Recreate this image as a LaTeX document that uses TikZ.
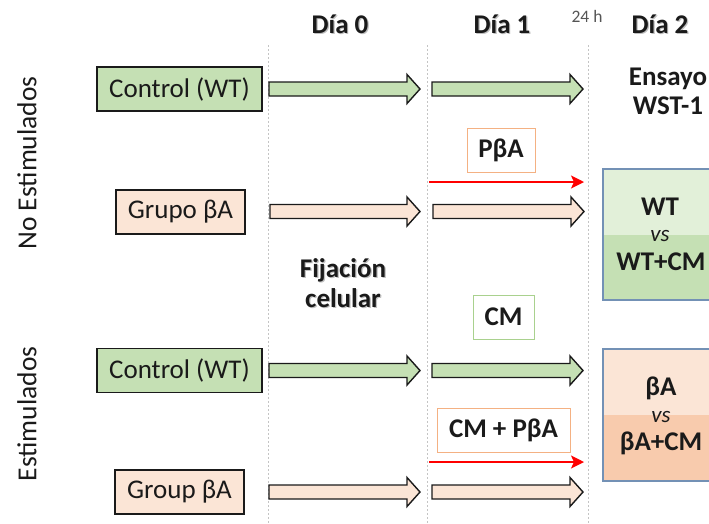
\documentclass[tikz,border=0pt]{standalone}
\usepackage{fontspec}
\setmainfont{Carlito}
\usetikzlibrary{arrows.meta}

\definecolor{wtfill}{HTML}{C5E0B4}
\definecolor{wtlight}{HTML}{E2F0D9}
\definecolor{bafill}{HTML}{FBE5D6}
\definecolor{badark}{HTML}{F8CBAD}
\definecolor{orangeline}{HTML}{F4B183}
\definecolor{greenline}{HTML}{A9D18E}
\definecolor{resline}{HTML}{7391B5}
\definecolor{guide}{HTML}{C4C4C4}
\definecolor{ink}{HTML}{1A1A1A}
\definecolor{hourgray}{HTML}{555555}

\newcommand\bigtxt{\fontsize{27}{31}\selectfont}

% block arrow: start x, end x, centre y, fill colour
\newcommand\blockarrow[4]{%
  \draw[blockline, fill=#4]
    (#1,#3-7) -- (#2-13,#3-7) -- (#2-13,#3-14.5) -- (#2,#3)
    -- (#2-13,#3+14.5) -- (#2-13,#3+7) -- (#1,#3+7) -- cycle;}

\begin{document}
\begin{tikzpicture}[x=1pt,y=-1pt,
  blockline/.style={draw=ink, line width=1.4pt, line join=miter},
  groupbox/.style={draw=ink, line width=1.6pt, minimum height=44pt,
    inner sep=0pt, font=\bigtxt, text=ink},
  treatbox/.style={draw=#1, line width=1pt, fill=white, minimum height=44pt,
    inner sep=0pt, font=\bigtxt\bfseries, text=ink},
  header/.style={font=\bigtxt\bfseries, text=ink, inner sep=0pt},
  hshadow/.style={font=\bigtxt\bfseries, text=black, opacity=0.25, inner sep=0pt},
  sidelabel/.style={font=\fontsize{27.5}{31}\selectfont, rotate=90, text=ink, inner sep=0pt},
  guideline/.style={draw=guide, line width=0.8pt, dash pattern=on 2pt off 2pt},
  redarrow/.style={draw=red, line width=1.6pt, -{Stealth[length=13pt,width=13pt,inset=3pt]}},
  resbox/.style={draw=resline, line width=1.6pt, inner sep=0pt},
  restext/.style={font=\bigtxt\bfseries, text=ink, inner sep=0pt},
  vstext/.style={font=\fontsize{23}{26}\selectfont\itshape, text=ink, inner sep=0pt}]

\useasboundingbox (0,0) rectangle (709,523);
\clip (0,0) rectangle (709,523);

% day separators
\coordinate (g0t) at (268,45);  \coordinate (g0b) at (268,523);
\coordinate (g1t) at (427,45);  \coordinate (g1b) at (427,523);
\coordinate (g2t) at (588,45);  \coordinate (g2b) at (588,523);
\draw[guideline] (g0t) -- (g0b);
\draw[guideline] (g1t) -- (g1b);
\draw[guideline] (g2t) -- (g2b);

% headers
\node[hshadow] at (341.2,25.2) {Día 0};
\node[header] (d0) at (340,24) {Día 0};
\node[hshadow] at (503.2,25.2) {Día 1};
\node[header] (d1) at (502,24) {Día 1};
\node[hshadow] at (661.2,25.2) {Día 2};
\node[header] (d2) at (660,24) {Día 2};
\node[font=\fontsize{17.5}{20}\selectfont, text=hourgray, inner sep=0pt] (h24) at (587,16) {24 h};

% side labels
\node[sidelabel] (nostim) at (27,163) {No Estimulados};
\node[sidelabel] (stim) at (27,414) {Estimulados};

% groups
\node[groupbox, fill=wtfill, minimum width=165pt] (c1) at (179.5,89) {Control (WT)};
\node[groupbox, fill=bafill, minimum width=129pt] (b1) at (180.5,212) {Grupo βA};
\node[groupbox, fill=wtfill, minimum width=165pt] (c2) at (179.5,370.5) {Control (WT)};
\node[groupbox, fill=bafill, minimum width=129pt] (b2) at (179.5,492) {Group βA};

% time-line arrows
\blockarrow{269}{420}{89}{wtfill}
\blockarrow{432}{583}{89}{wtfill}
\blockarrow{270}{420}{211.5}{bafill}
\blockarrow{433}{584}{211.5}{bafill}
\blockarrow{269}{420}{370.5}{wtfill}
\blockarrow{432}{583}{370.5}{wtfill}
\blockarrow{269}{420}{492}{bafill}
\blockarrow{432}{583}{492}{bafill}

% treatments
\node[treatbox=orangeline, minimum width=68pt] (pba) at (501,150) {PβA};
\coordinate (r1s) at (429,182);
\coordinate (r1e) at (584,182);
\draw[redarrow] (r1s) -- (r1e);

\node[treatbox=greenline, minimum width=61pt] (cm) at (503.5,317) {CM};
\node[treatbox=orangeline, minimum width=133pt] (cmpba) at (503.5,430) {CM + PβA};
\coordinate (r2s) at (429,462);
\coordinate (r2e) at (584,462);
\draw[redarrow] (r2s) -- (r2e);

% cell attachment
\node[hshadow, align=center, font=\bigtxt\bfseries\setlength{\baselineskip}{30pt}] at (344.2,284.2) {Fijación\\celular};
\node[header, align=center, font=\bigtxt\bfseries\setlength{\baselineskip}{30pt}] (fix) at (343,283) {Fijación\\celular};

% assay
\node[header, align=center, font=\bigtxt\bfseries\setlength{\baselineskip}{29pt}] (wst) at (668,91) {Ensayo\\WST-1};

% result panels
\fill[wtlight] (603,169) rectangle (730,235);
\fill[wtfill] (603,235) rectangle (730,300);
\node[resbox, minimum width=127pt, minimum height=131pt] (res1) at (666.5,234.5) {};
\node[restext] (rwt) at (660,207) {WT};
\node[vstext] (vs1) at (660,236) {vs};
\node[restext] (rwtcm) at (661,262) {WT+CM};

\fill[bafill] (603,349) rectangle (730,415);
\fill[badark] (603,415) rectangle (730,481);
\node[resbox, minimum width=127pt, minimum height=132pt] (res2) at (666.5,415) {};
\node[restext] (rba) at (661,388) {βA};
\node[vstext] (vs2) at (661,417) {vs};
\node[restext] (rbacm) at (661,443) {βA+CM};

\end{tikzpicture}
\end{document}
